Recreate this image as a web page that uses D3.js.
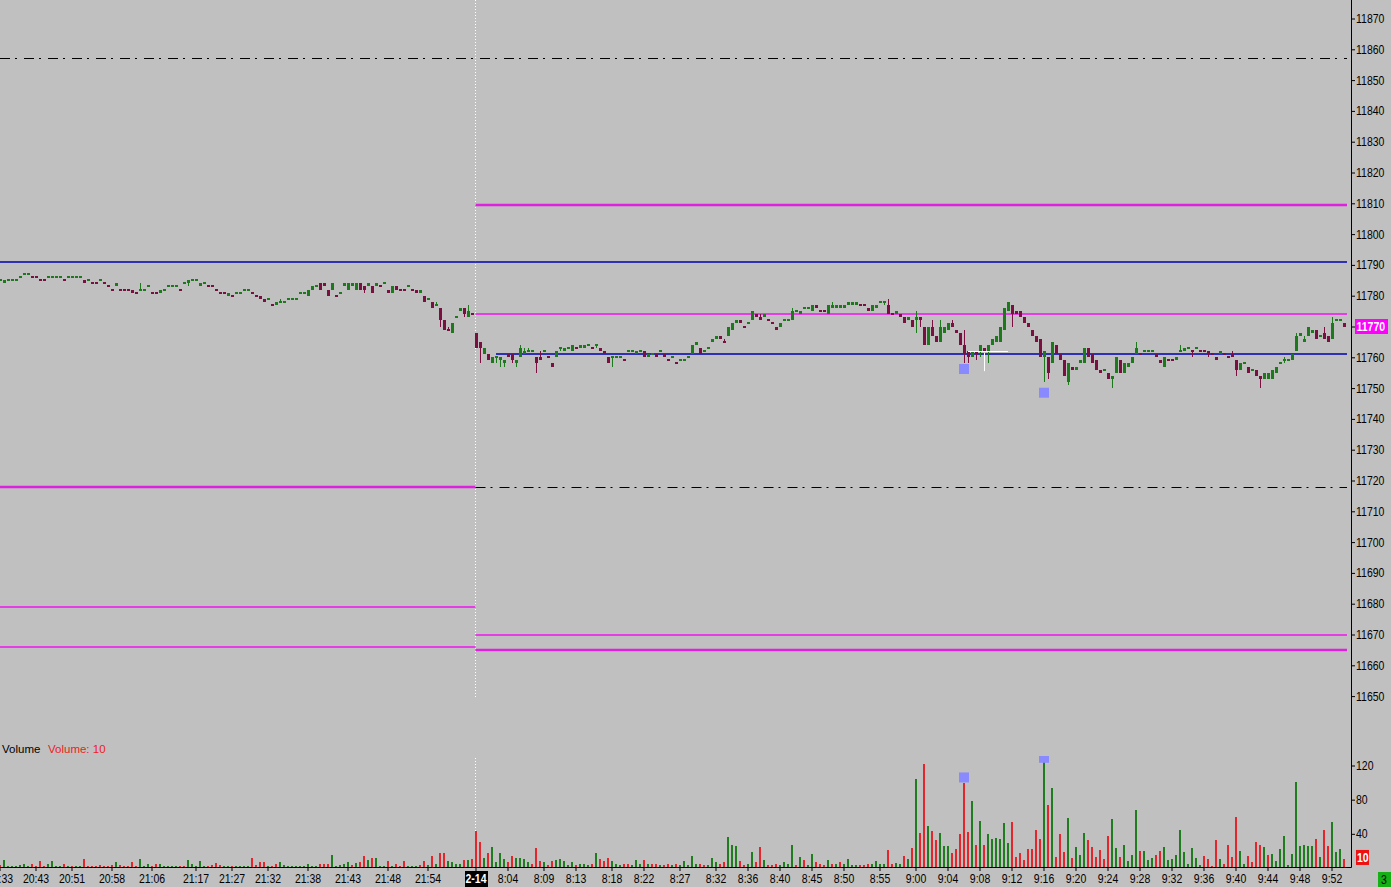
<!DOCTYPE html>
<html><head><meta charset="utf-8">
<script src="https://cdn.jsdelivr.net/npm/d3@7"></script>
<style>
html,body{margin:0;padding:0;background:#c0c0c0;overflow:hidden;}
svg{display:block;}
.ax text{font-family:"Liberation Sans",Arial,sans-serif;font-size:12.5px;fill:#000;}
.ax line{stroke:#000;}
</style></head><body>
<svg id="c" width="1391" height="887"></svg>
<script>
// ---------- DATA ----------
const openP = [
11785,11784,11785,11785,11785,11786,11787,11787,11786,11786,
11785,11785,11786,11786,11786,11786,11785,11786,11786,11786,
11786,11785,11785,11784,11784,11785,11784,11783,11782,11783,
11782,11782,11782,11782,11781,11782,11782,11783,11781,11781,
11781,11782,11783,11783,11783,11782,11784,11784,11785,11785,
11783,11784,11783,11783,11782,11781,11781,11780,11780,11781,
11781,11782,11782,11781,11780,11780,11779,11779,11777,11777,
11778,11778,11779,11779,11779,11781,11781,11780,11782,11783,
11784,11784,11782,11782,11780,11781,11783,11782,11783,11782,
11784,11783,11783,11783,11783,11783,11784,11782,11781,11783,
11782,11782,11783,11782,11782,11781,11780,11779,11778,11777,
11776,11772,11769,11768,11773,11775,11776,11773,11774,
11768,11765,11761,11761,11758,11760,11759,11758,11761,11761,
11758,11760,11761,11762,11762,11760,11760,11762,11760,11758,
11760,11763,11762,11763,11762,11763,11763,11763,11764,11763,
11764,11763,11762,11760,11760,11760,11760,11759,11762,11762,
11761,11762,11762,11760,11761,11761,11762,11761,11759,11760,
11758,11759,11759,11760,11761,11764,11763,11762,11763,11765,
11766,11767,11765,11767,11769,11771,11772,11770,11771,11772,
11774,11773,11773,11772,11771,11770,11770,11772,11772,11772,
11775,11774,11776,11776,11775,11777,11775,11775,11774,11776,
11776,11776,11776,11777,11777,11777,11777,11777,11776,11775,
11776,11778,11778,11777,11774,11774,11774,11773,11772,11772,
11772,11773,11770,11764,11770,11767,11765,11768,11769,11771,
11769,11768,11764,11762,11760,11762,11762,11763,11762,11764,
11765,11765,11769,11775,11777,11775,11775,11773,11771,11769,
11767,11766,11760,11760,11758,11764,11761,11759,11752,11757,
11756,11758,11758,11763,11761,11759,11756,11756,11755,11753,
11755,11759,11755,11757,11758,11761,11761,11762,11762,11762,
11761,11759,11757,11759,11759,11759,11762,11762,11763,11762,
11763,11762,11762,11762,11761,11760,11761,11761,11760,11761,
11759,11756,11758,11757,11756,11756,11754,11753,11753,11753,
11755,11758,11759,11759,11759,11762,11767,11765,11767,11768,
11769,11767,11768,11767,11766,11772,11772,11771];
const highP = [
11785,11785,11785,11785,11785,11786,11787,11787,11786,11786,
11785,11785,11786,11786,11786,11786,11785,11786,11786,11786,
11786,11785,11785,11784,11784,11785,11784,11783,11782,11784,
11782,11782,11782,11782,11781,11784,11782,11783,11781,11781,
11782,11782,11783,11783,11783,11782,11784,11785,11785,11785,
11784,11784,11783,11783,11782,11781,11781,11781,11780,11781,
11781,11782,11782,11781,11780,11780,11779,11779,11777,11778,
11779,11778,11779,11779,11779,11781,11781,11782,11783,11783,
11784,11784,11782,11784,11780,11781,11784,11784,11784,11784,
11784,11783,11784,11783,11784,11783,11784,11782,11783,11783,
11782,11782,11783,11782,11782,11782,11780,11779,11778,11778,
11776,11772,11770,11771,11773,11776,11776,11777,11774,
11768,11765,11763,11761,11760,11760,11760,11759,11761,11761,
11759,11764,11763,11763,11762,11760,11762,11762,11760,11758,
11762,11763,11763,11763,11764,11763,11764,11764,11764,11763,
11764,11763,11762,11760,11760,11760,11760,11759,11762,11762,
11762,11762,11762,11761,11761,11761,11762,11761,11759,11760,
11758,11759,11759,11760,11764,11765,11763,11762,11763,11766,
11767,11767,11766,11770,11771,11772,11772,11770,11771,11775,
11774,11774,11774,11772,11771,11770,11771,11772,11772,11776,
11775,11775,11776,11776,11777,11777,11775,11775,11777,11778,
11777,11777,11777,11778,11778,11778,11777,11777,11776,11777,
11777,11778,11778,11779,11774,11775,11774,11773,11773,11772,
11775,11773,11770,11770,11772,11767,11772,11770,11771,11772,
11769,11768,11769,11762,11762,11762,11764,11763,11764,11766,
11767,11770,11776,11778,11777,11775,11775,11773,11771,11769,
11767,11766,11762,11760,11765,11764,11761,11759,11758,11757,
11757,11759,11763,11763,11761,11759,11756,11756,11755,11754,
11760,11759,11758,11758,11760,11765,11761,11762,11762,11762,
11761,11759,11760,11759,11759,11760,11764,11763,11763,11762,
11763,11762,11762,11762,11761,11760,11762,11761,11760,11762,
11759,11758,11758,11757,11756,11756,11754,11755,11755,11756,
11757,11758,11760,11759,11761,11768,11768,11767,11770,11769,
11769,11767,11770,11767,11773,11772,11772,11771];
const lowP = [
11785,11784,11785,11785,11785,11786,11787,11787,11786,11786,
11785,11785,11786,11786,11786,11786,11785,11786,11786,11786,
11786,11784,11785,11784,11784,11785,11784,11783,11782,11783,
11782,11782,11782,11781,11781,11782,11782,11783,11781,11781,
11781,11782,11783,11783,11783,11782,11784,11783,11785,11785,
11783,11784,11783,11783,11782,11781,11781,11780,11780,11781,
11781,11782,11782,11781,11780,11779,11778,11779,11777,11777,
11778,11778,11779,11779,11779,11781,11781,11780,11782,11783,
11782,11783,11780,11782,11780,11781,11783,11782,11783,11782,
11782,11781,11783,11781,11783,11783,11784,11781,11781,11782,
11782,11782,11783,11782,11781,11781,11778,11779,11776,11777,
11770,11769,11769,11768,11773,11775,11773,11773,11774,
11763,11758,11761,11759,11758,11758,11757,11757,11760,11758,
11757,11760,11761,11762,11762,11755,11759,11762,11760,11757,
11760,11762,11762,11763,11762,11763,11763,11763,11764,11763,
11763,11762,11761,11758,11757,11760,11760,11759,11762,11762,
11761,11762,11760,11760,11761,11760,11762,11760,11759,11760,
11758,11759,11759,11760,11761,11764,11761,11762,11763,11765,
11766,11766,11765,11767,11769,11771,11771,11770,11771,11772,
11773,11772,11773,11772,11771,11769,11770,11772,11772,11772,
11775,11774,11776,11776,11775,11776,11775,11775,11774,11776,
11776,11776,11776,11777,11777,11777,11777,11777,11775,11775,
11776,11778,11777,11774,11774,11774,11773,11771,11772,11770,
11768,11770,11764,11764,11767,11765,11765,11768,11769,11770,
11768,11764,11758,11758,11760,11759,11760,11762,11758,11764,
11765,11765,11769,11775,11770,11774,11773,11771,11770,11767,
11765,11760,11752,11753,11758,11761,11759,11754,11751,11756,
11756,11758,11758,11760,11758,11756,11755,11756,11753,11750,
11755,11755,11755,11757,11758,11761,11761,11762,11762,11762,
11760,11758,11757,11759,11759,11759,11762,11762,11763,11760,
11763,11762,11762,11760,11761,11759,11761,11761,11760,11760,
11754,11756,11758,11755,11756,11754,11750,11753,11753,11753,
11755,11758,11758,11759,11759,11762,11767,11765,11767,11768,
11766,11767,11766,11765,11766,11772,11772,11770];
const closeP = [
11785,11785,11785,11785,11785,11786,11787,11787,11786,11786,
11785,11785,11786,11786,11786,11786,11785,11786,11786,11786,
11786,11784,11785,11784,11784,11785,11784,11783,11782,11784,
11782,11782,11782,11781,11781,11782,11782,11783,11781,11781,
11782,11782,11783,11783,11783,11782,11784,11785,11785,11785,
11784,11784,11783,11783,11782,11781,11781,11781,11780,11781,
11781,11782,11782,11781,11780,11779,11778,11779,11777,11778,
11778,11778,11779,11779,11779,11781,11781,11782,11783,11783,
11782,11783,11780,11784,11780,11781,11784,11784,11784,11784,
11782,11782,11784,11781,11784,11783,11784,11781,11783,11782,
11782,11782,11783,11782,11781,11782,11778,11779,11776,11777,
11772,11769,11769,11771,11773,11776,11774,11775,11774,
11763,11763,11763,11759,11760,11760,11760,11759,11760,11759,
11759,11763,11762,11762,11762,11758,11759,11762,11760,11757,
11762,11763,11763,11763,11764,11763,11764,11764,11764,11763,
11764,11762,11761,11758,11760,11760,11760,11759,11762,11762,
11762,11762,11760,11761,11761,11760,11762,11760,11759,11760,
11758,11759,11759,11760,11764,11765,11761,11762,11763,11766,
11767,11766,11765,11770,11771,11772,11771,11770,11771,11775,
11773,11772,11774,11772,11771,11769,11771,11772,11772,11775,
11775,11775,11776,11776,11777,11776,11775,11775,11777,11777,
11777,11777,11777,11778,11778,11778,11777,11777,11775,11777,
11777,11778,11778,11774,11774,11775,11773,11771,11773,11770,
11773,11772,11764,11770,11767,11765,11770,11770,11771,11770,
11768,11764,11761,11760,11762,11761,11764,11762,11764,11766,
11767,11770,11776,11778,11774,11774,11773,11771,11770,11767,
11765,11760,11762,11755,11765,11761,11759,11754,11758,11756,
11757,11759,11763,11760,11758,11756,11755,11756,11753,11754,
11760,11755,11758,11758,11760,11763,11761,11762,11762,11762,
11760,11758,11760,11759,11759,11760,11762,11763,11763,11762,
11763,11762,11762,11761,11761,11759,11762,11761,11760,11760,
11756,11758,11758,11755,11756,11754,11753,11755,11755,11756,
11757,11758,11759,11759,11761,11767,11768,11766,11770,11769,
11766,11767,11766,11765,11771,11772,11772,11770];
const volume = [
3,9,2,2,2,4,5,2,5,2, 8,2,5,8,2,2,5,2,2,2, 2,10,2,2,2,4,2,2,4,7, 4,2,2,7,2,10,2,5,2,5,
5,2,2,2,2,2,2,9,5,2, 8,2,2,4,6,4,2,2,2,2, 2,2,2,12,4,7,7,2,2,5, 7,4,2,2,2,2,2,5,2,2,
5,5,5,15,2,4,5,7,4,6, 7,14,9,12,12,2,2,8,2,5, 2,8,2,2,2,4,8,4,14,5, 18,17,8,7,5,5,9,9,11,
43,30,12,18,25,7,18,10,7,14, 12,12,11,7,5,24,8,7,3,8, 9,11,8,3,7,3,5,5,4,5,
18,11,8,12,8,5,3,5,5,3, 9,5,9,5,5,5,3,4,5,3, 5,3,8,3,14,5,5,3,4,12,
7,5,7,36,27,26,8,4,5,19, 7,25,9,4,4,5,4,7,5,27, 3,13,9,3,16,7,5,4,9,5,
5,7,5,11,4,4,3,3,5,5, 8,5,5,21,5,6,5,14,11,24, 104,41,122,49,43,33,41,26,26,17,
22,40,100,42,78,27,55,27,40,34, 35,34,53,29,54,13,17,9,22,22, 45,34,124,74,94,13,40,19,58,12,
25,15,41,33,25,13,21,10,38,57, 24,13,27,8,15,68,20,20,9,12, 15,20,25,9,11,15,45,19,5,24,
12,4,14,10,2,33,10,5,27,13, 60,20,5,14,7,30,27,25,15,16, 8,22,38,4,16,101,26,27,26,26,
34,13,45,26,54,19,22,10];
// volume tick direction: g = up volume, r = down volume
const volDir = (
"rgggggggrr"+"rrggggrgrg"+"grrrrrrrrg"+"rrrrrgggrr"+"gggggrrggg"+"ggrrrrggrg"+
"gggrrrrgrr"+"gggggggggg"+"rrrgggggrg"+"rrgrgggrgr"+"rrgggrrgrg"+"rrggggrgr"+
"rrgrggggrr"+"ggggrrrgrr"+"gggggrgggr"+"grrrgggrrg"+"ggrgrrgrrg"+"rgggggrrgg"+
"grrgggrrgg"+"rrgrrrgggg"+"rgrggrrrgr"+"grggggrrrg"+"gggrrggrgr"+"grrgrrgggr"+
"rrrrgrgrgg"+"ggggrrrrrr"+"rrgrgrrrgr"+"gggrrrrrrg"+"grggggrggg"+"rrgggggggg"+
"ggrrrrgrrr"+"rggrrrrgrg"+"gggggggggg"+"rgrrgggr").split("");

const timeLabels = ["20:33","20:43","20:51","20:58","21:06","21:17","21:27","21:32","21:38","21:43","21:48","21:54","2-14","8:04","8:09","8:13","8:18","8:22","8:27","8:32","8:36","8:40","8:45","8:50","8:55","9:00","9:04","9:08","9:12","9:16","9:20","9:24","9:28","9:32","9:36","9:40","9:44","9:48","9:52"];
const timeIdx = [0,9,18,28,38,49,58,67,77,87,97,107,119,127,136,144,153,161,170,179,187,195,203,211,220,229,237,245,253,261,269,277,285,293,301,309,317,325,333];
const priceTicks = [11650,11660,11670,11680,11690,11700,11710,11720,11730,11740,11750,11760,11770,11780,11790,11800,11810,11820,11830,11840,11850,11860,11870];
const volTicks = [40,80,120];

// horizontal levels
const lvlPrice = [11857.2, 11809.3, 11790.8, 11774.0, 11761.0, 11718.0, 11718.0, 11679.0, 11666.0, 11669.8, 11665.0];
const lvlFrom  = [0, 119, 0, 119, 124, 0, 119, 0, 0, 119, 119];
const lvlTo    = [-1, -1, -1, -1, -1, 119, -1, 119, 119, -1, -1];
const lvlKind  = ["dashdot","thick","blue","thin","blue","thick","dashdot","thin","thin","thin","thick"];

// signal markers
const markBar = [241, 261];
const markPrice = [11756.2, 11748.5];
const markVol = [106, 129];

// cursor annotation
const curBars = [242, 252];
const curPrice = 11762;
const curVBar = 246;
const curVPrices = [11761.5, 11755.5];

const sessionStart = 119;
const lastVolume = volume[volume.length-1];
const countdown = "3";

// ---------- CHART ----------
const svg = d3.select("#c");
const W = 1391, H = 887;
const n = closeP.length;
const plotR = 1347, axisX = 1351.5, axisY = 867.5;
const SX = 0.84; // horizontal condensing for narrow axis font

svg.append("rect").attr("width", W).attr("height", H).attr("fill", "#c0c0c0");

const x = d3.scaleBand().domain(d3.range(n)).range([-2, 4*n - 2]).paddingInner(0.25).paddingOuter(0.125);
const xc = i => x(i) + x.bandwidth()/2;
const yP = d3.scaleLinear().domain([11650, 11870]).range([696.1, 18.5]);
const yV = d3.scaleLinear().domain([0, 120]).range([868, 765.5]);
const sessionX = xc(sessionStart) - 0.5;

const defs = svg.append("defs");
defs.append("clipPath").attr("id","cp").append("rect").attr("x",0).attr("y",0).attr("width",plotR).attr("height",735);
defs.append("clipPath").attr("id","cv").append("rect").attr("x",0).attr("y",756).attr("width",plotR).attr("height",111.5);

const gp = svg.append("g").attr("clip-path","url(#cp)");
const gv = svg.append("g").attr("clip-path","url(#cv)");

// session divider (dotted white)
gp.append("line").attr("x1",sessionX).attr("x2",sessionX).attr("y1",0).attr("y2",697)
  .attr("stroke","#fff").attr("stroke-dasharray","1,2");
gv.append("line").attr("x1",sessionX).attr("x2",sessionX).attr("y1",755).attr("y2",867)
  .attr("stroke","#fff").attr("stroke-dasharray","1,2");

// levels
const lvlStyle = {
  dashdot: {stroke:"#000000", w:1, dash:"10,5,2,7"},
  thick:   {stroke:"#dc22dc", w:2.6, dash:null},
  thin:    {stroke:"#f014f0", w:1.5, dash:null},
  blue:    {stroke:"#0000b4", w:1.6, dash:null}
};
const fromX = i => i === 0 ? 0 : (i === sessionStart ? sessionX : xc(i));
const toX = i => i < 0 ? plotR : (i === sessionStart ? sessionX : xc(i));
lvlPrice.forEach((p, k) => {
  const st = lvlStyle[lvlKind[k]];
  const yy = Math.round(yP(p)) + (st.w === 1 ? 0.5 : 0);
  gp.append("line").attr("x1", fromX(lvlFrom[k])).attr("x2", toX(lvlTo[k]))
    .attr("y1", yy).attr("y2", yy).attr("stroke", st.stroke).attr("stroke-width", st.w)
    .attr("stroke-dasharray", st.dash);
});

// candle colours
const GREEN = "#1c7a1c", MAROON = "#7a1040";
const candleCol = [];
for (let i = 0; i < n; i++) {
  if (closeP[i] > openP[i]) candleCol.push(GREEN);
  else if (closeP[i] < openP[i]) candleCol.push(MAROON);
  else if (i === 0) candleCol.push(GREEN);
  else if (closeP[i] > closeP[i-1]) candleCol.push(GREEN);
  else if (closeP[i] < closeP[i-1]) candleCol.push(MAROON);
  else candleCol.push(candleCol[i-1]);
}
const idx = d3.range(n);
const gc = gp.append("g").attr("shape-rendering","crispEdges");
gc.selectAll("line.w").data(idx).join("line").attr("class","w")
  .attr("x1", i => xc(i)+0.5).attr("x2", i => xc(i)+0.5)
  .attr("y1", i => yP(highP[i])).attr("y2", i => yP(lowP[i]))
  .attr("stroke", i => candleCol[i]).attr("stroke-width", 1);
gc.selectAll("rect.b").data(idx).join("rect").attr("class","b")
  .attr("x", i => x(i)+0.5).attr("width", 3)
  .attr("y", i => {
    const t = yP(Math.max(openP[i], closeP[i])), b = yP(Math.min(openP[i], closeP[i]));
    return b - t < 2 ? (t+b)/2 - 1 : t;
  })
  .attr("height", i => Math.max(2, yP(Math.min(openP[i], closeP[i])) - yP(Math.max(openP[i], closeP[i]))))
  .attr("fill", i => candleCol[i]);

// price markers
gp.selectAll("rect.m").data(markBar).join("rect").attr("class","m")
  .attr("x", b => xc(b)-5).attr("y", (b,k) => yP(markPrice[k])-5)
  .attr("width",10).attr("height",10).attr("fill","#8a8aff");

// cursor annotation
gp.append("line").attr("x1", xc(curBars[0])).attr("x2", xc(curBars[1]))
  .attr("y1", Math.round(yP(curPrice))+0.5).attr("y2", Math.round(yP(curPrice))+0.5).attr("stroke","#fff");
gp.append("line").attr("x1", xc(curVBar)+0.5).attr("x2", xc(curVBar)+0.5)
  .attr("y1", yP(curVPrices[0])).attr("y2", yP(curVPrices[1])).attr("stroke","#fff");

// volume bars
gv.append("g").attr("shape-rendering","crispEdges").selectAll("rect").data(idx).join("rect")
  .attr("x", i => xc(i)-1).attr("width", 2)
  .attr("y", i => yV(volume[i])).attr("height", i => yV(0) - yV(volume[i]) - 1)
  .attr("fill", i => volDir[i] === "g" ? "#1f7d1f" : "#e3262c");
gv.selectAll("rect.m").data(markBar).join("rect").attr("class","m")
  .attr("x", b => xc(b)-5).attr("y", (b,k) => yV(markVol[k])-5)
  .attr("width",10).attr("height",10).attr("fill","#8a8aff");

// volume title
svg.append("text").attr("x",2).attr("y",752.5).text("Volume")
  .attr("font-family","Liberation Sans, Arial, sans-serif").attr("font-size","11.5px").attr("fill","#000");
svg.append("text").attr("x",48).attr("y",752.5).text("Volume: " + lastVolume)
  .attr("font-family","Liberation Sans, Arial, sans-serif").attr("font-size","11.5px").attr("fill","#ee2020");

// axes lines
svg.append("line").attr("x1",axisX).attr("x2",axisX).attr("y1",0).attr("y2",axisY).attr("stroke","#000");
svg.append("line").attr("x1",0).attr("x2",axisX).attr("y1",axisY).attr("y2",axisY).attr("stroke","#000");

// price axis
const gPA = svg.append("g").attr("class","ax").attr("transform",`translate(${axisX-0.5},0)`)
  .call(d3.axisRight(yP).tickValues(priceTicks).tickSize(4).tickPadding(1).tickFormat(d3.format("d")));
gPA.select(".domain").remove();
gPA.selectAll("text").attr("x", 5/SX).attr("transform", `scale(${SX},1)`);

// volume axis
const gVA = svg.append("g").attr("class","ax").attr("transform",`translate(${axisX-0.5},0)`)
  .call(d3.axisRight(yV).tickValues(volTicks).tickSize(4).tickPadding(1));
gVA.select(".domain").remove();
gVA.selectAll("text").attr("x", 5/SX).attr("transform", `scale(${SX},1)`);

// time axis
const gXA = svg.append("g").attr("class","ax").attr("transform",`translate(0,${axisY-0.5})`)
  .call(d3.axisBottom(x).tickValues(timeIdx).tickSize(4).tickPadding(3)
    .tickFormat(d => timeLabels[timeIdx.indexOf(d)]));
gXA.select(".domain").remove();
gXA.selectAll("text").attr("transform", `scale(${SX},1)`);
gXA.selectAll(".tick").filter(d => d === sessionStart).each(function() {
  const t = d3.select(this);
  t.insert("rect","text").attr("x",-11).attr("y",4).attr("width",23).attr("height",16).attr("fill","#000");
  t.select("text").style("fill","#fff").attr("font-weight","bold");
});

// last price tag
const lastC = closeP[n-1];
const tagY = yP(lastC);
svg.append("rect").attr("x",1355).attr("y",tagY-7.5).attr("width",33).attr("height",15).attr("fill","#ff00ff");
svg.append("text").attr("transform",`translate(1356.5,${tagY+4.5}) scale(${SX},1)`).text(d3.format("d")(lastC))
  .attr("font-family","Liberation Sans, Arial, sans-serif").attr("font-size","12.5px").attr("font-weight","bold").attr("fill","#fff");

// last volume tag
const vTagY = yV(lastVolume);
svg.append("rect").attr("x",1356).attr("y",vTagY-9.5).attr("width",13).attr("height",15).attr("fill","#ee1111");
svg.append("text").attr("transform",`translate(1357,${vTagY+2.5}) scale(${SX},1)`).text(lastVolume)
  .attr("font-family","Liberation Sans, Arial, sans-serif").attr("font-size","12.5px").attr("font-weight","bold").attr("fill","#fff");

// countdown box
svg.append("rect").attr("x",1378).attr("y",872).attr("width",13).attr("height",15).attr("fill","#16b016");
svg.append("text").attr("transform",`translate(1381,884) scale(${SX},1)`).text(countdown)
  .attr("font-family","Liberation Sans, Arial, sans-serif").attr("font-size","12.5px").attr("fill","#000");
</script>
</body></html>
